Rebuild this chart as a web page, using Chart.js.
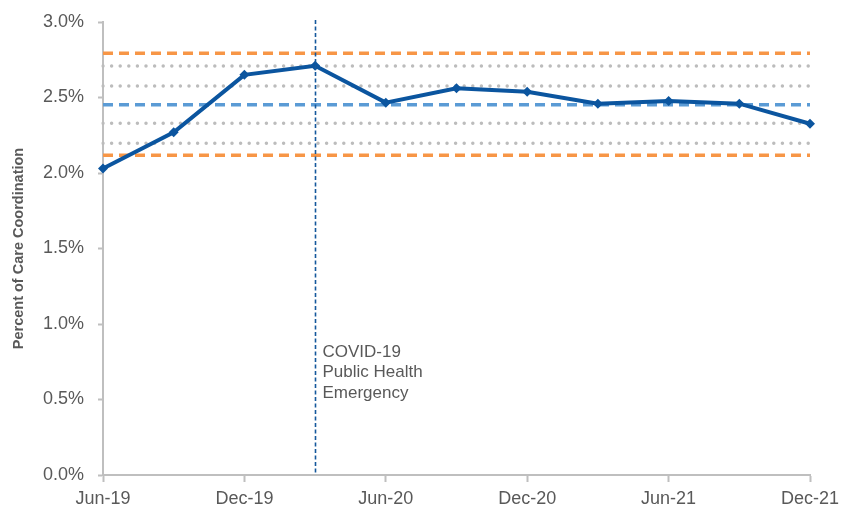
<!DOCTYPE html>
<html>
<head>
<meta charset="utf-8">
<script src="https://cdn.jsdelivr.net/npm/chart.js@4/dist/chart.umd.min.js"></script>
<style>
  html, body { margin: 0; padding: 0; background: #fff; }
  #wrap { width: 844px; height: 510px; }
</style>
</head>
<body>
<div id="wrap"><canvas id="careChart"></canvas></div>
<script>
// quarterly rate of care coordination
const quarters = ['Jun-19', 'Sep-19', 'Dec-19', 'Mar-20', 'Jun-20', 'Sep-20',
                  'Dec-20', 'Mar-21', 'Jun-21', 'Sep-21', 'Dec-21'];
const careRate = [2.03, 2.27, 2.65, 2.71, 2.466, 2.561, 2.538, 2.459, 2.477, 2.459, 2.326];

// control limits
const meanLine = 2.452;
const upperLimits = [2.793];   // orange
const lowerLimits = [2.117];
const sigmaLines = [2.709, 2.576, 2.329, 2.197]; // grey dotted

const emergencyStart = 'Mar-20';
const emergencyText = ['COVID-19', 'Public Health', 'Emergency'];

const textGray = '#595959';
const axisGray = '#bfbfbf';
const fontFamily = '"Liberation Sans", Arial, sans-serif';

function flatLine(value) {
  return quarters.map(() => value);
}

const refSets = [];
upperLimits.concat(lowerLimits).forEach(v => {
  refSets.push({
    data: flatLine(v), borderColor: '#f79646', borderWidth: 3.5,
    borderDash: [10, 6], pointRadius: 0
  });
});
refSets.push({
  data: flatLine(meanLine), borderColor: '#5b9bd5', borderWidth: 3.5,
  borderDash: [10, 6], pointRadius: 0
});
sigmaLines.forEach(v => {
  refSets.push({
    data: flatLine(v), borderColor: '#bcbcbc', borderWidth: 3.5,
    borderDash: [0, 8.6], borderCapStyle: 'round', pointRadius: 0
  });
});

// vertical marker + label for start of the emergency
const emergencyMarker = {
  id: 'emergencyMarker',
  afterDatasetsDraw(chart) {
    const { ctx, chartArea, scales } = chart;
    const x = Math.round(scales.x.getPixelForValue(quarters.indexOf(emergencyStart))) + 0.5;
    ctx.save();
    ctx.strokeStyle = '#14589c';
    ctx.lineWidth = 1.6;
    ctx.setLineDash([4, 2.5]);
    ctx.beginPath();
    ctx.moveTo(x, chartArea.top - 2);
    ctx.lineTo(x, chartArea.bottom);
    ctx.stroke();
    ctx.setLineDash([]);
    ctx.fillStyle = textGray;
    ctx.font = '17px ' + fontFamily;
    ctx.textBaseline = 'middle';
    emergencyText.forEach((t, i) => {
      ctx.fillText(t, x + 7, 352 + i * 20.5);
    });
    ctx.restore();
  }
};

new Chart(document.getElementById('careChart'), {
  type: 'line',
  data: {
    labels: quarters,
    datasets: [{
      data: careRate,
      borderColor: '#0b559f',
      backgroundColor: '#0b559f',
      borderWidth: 4,
      pointStyle: 'rectRot',
      pointRadius: 5,
      pointBorderWidth: 0
    }].concat(refSets)
  },
  options: {
    responsive: true,
    maintainAspectRatio: false,
    animation: false,
    layout: { padding: { top: 22, right: 34, left: 0, bottom: 0 } },
    plugins: { legend: { display: false }, tooltip: { enabled: false } },
    elements: { line: { tension: 0, fill: false } },
    scales: {
      x: {
        offset: false,
        border: { color: axisGray, width: 2 },
        grid: {
          drawOnChartArea: false,
          tickLength: 7,
          tickWidth: 2,
          tickColor: c => (c.index % 2 === 0 ? axisGray : 'rgba(0,0,0,0)')
        },
        ticks: {
          autoSkip: false,
          maxRotation: 0,
          padding: 6,
          color: textGray,
          font: { family: fontFamily, size: 18 },
          callback: (v, i) => (i % 2 === 0 ? quarters[i] : '')
        },
        afterFit: s => {
          s.height = 35;
          s.paddingLeft = 0;
          s.paddingRight = 0;
        }
      },
      y: {
        min: 0,
        max: 3,
        border: { color: axisGray, width: 2 },
        grid: { drawOnChartArea: false, tickLength: 5, tickWidth: 2, tickColor: axisGray },
        ticks: {
          stepSize: 0.5,
          padding: 14,
          color: textGray,
          font: { family: fontFamily, size: 18 },
          callback: v => v.toFixed(1) + '%'
        },
        title: {
          display: true,
          text: 'Percent of Care Coordination',
          color: textGray,
          font: { family: fontFamily, size: 14.5, weight: 'bold' },
          padding: { top: 10, bottom: 0 }
        },
        afterFit: s => {
          s.width = 103;
          s.paddingTop = 0;
          s.paddingBottom = 0;
        }
      }
    }
  },
  plugins: [emergencyMarker]
});
</script>
</body>
</html>
